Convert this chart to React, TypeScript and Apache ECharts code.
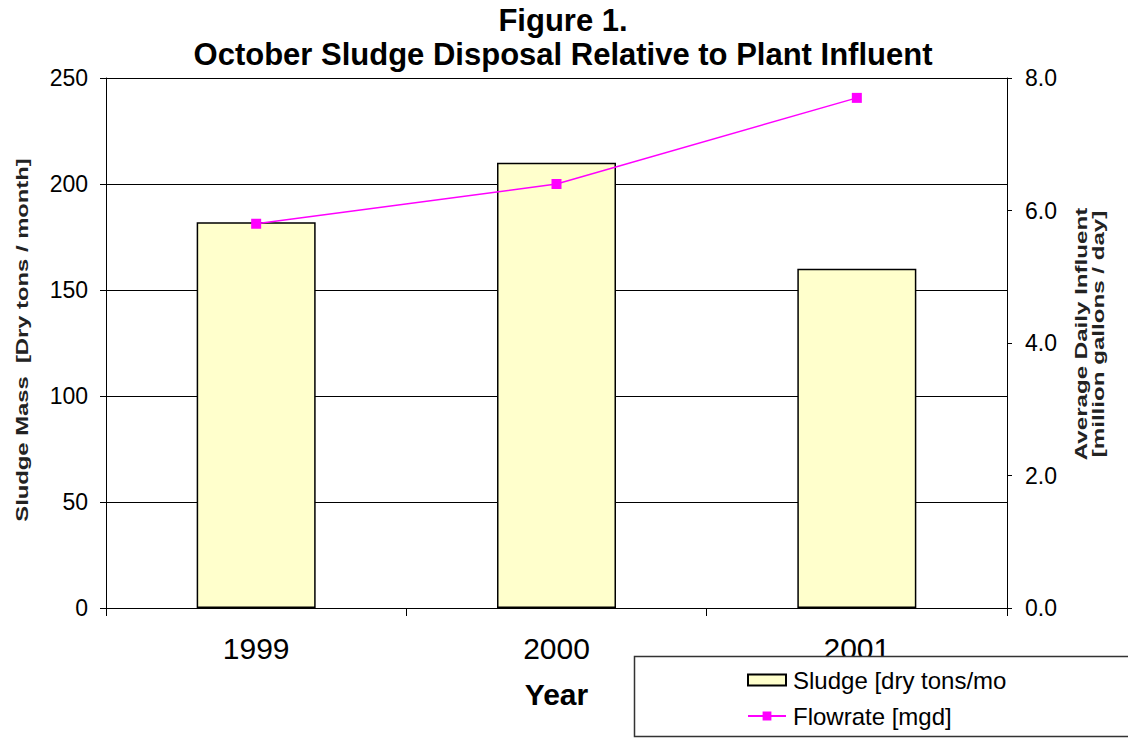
import React, { useEffect, useRef } from "react";
import * as echarts from "echarts";

const years = ["1999", "2000", "2001"];
const sludge = [182, 210, 160];
const flowrate = [5.8, 6.4, 7.7];
const leftTicks = { min: 0, max: 250, interval: 50 };
const rightTicks = { min: 0, max: 8, interval: 2 };
const titleLines = ["Figure 1.", "October Sludge Disposal Relative to Plant Influent"];
const leftAxisName = "Sludge Mass  [Dry tons / month]";
const rightAxisName = ["Average Daily Influent", "[million gallons / day]"];
const legendNames = ["Sludge [dry tons/mo", "Flowrate [mgd]"];

const FONT = "'Liberation Sans', Arial, sans-serif";

export default function App() {
  const ref = useRef<HTMLDivElement>(null);
  useEffect(() => {
    if (!ref.current) return;
    const chart = echarts.init(ref.current, null, { renderer: "svg" });
    const nameStyle = {
      font: `bold 17px ${FONT}`,
      fill: "#222",
      align: "center",
      verticalAlign: "middle",
    };
    chart.setOption({
      animation: false,
      backgroundColor: "#ffffff",
      textStyle: { fontFamily: FONT },
      title: {
        text: titleLines.join("\n"),
        left: 558,
        textAlign: "center",
        top: -2,
        textStyle: { fontSize: 31, fontWeight: "bold", color: "#000", lineHeight: 34, fontFamily: FONT },
      },
      grid: { left: 106, right: 121, top: 78, bottom: 130, containLabel: false },
      graphic: [
        {
          type: "rect",
          shape: { x: 634.5, y: 656.5, width: 520, height: 80 },
          style: { fill: "#fff", stroke: "#333", lineWidth: 1.5 },
          z: 10,
        },
        {
          type: "text",
          x: 22,
          y: 340,
          rotation: Math.PI / 2,
          scaleX: 1.4,
          style: { text: leftAxisName, ...nameStyle },
        },
        {
          type: "text",
          x: 1081,
          y: 334,
          rotation: Math.PI / 2,
          scaleX: 1.42,
          style: { text: rightAxisName[0], ...nameStyle },
        },
        {
          type: "text",
          x: 1098,
          y: 334,
          rotation: Math.PI / 2,
          scaleX: 1.42,
          style: { text: rightAxisName[1], ...nameStyle },
        },
      ],
      legend: {
        orient: "vertical",
        left: 742,
        top: 663,
        itemGap: 12,
        itemWidth: 38,
        itemHeight: 11,
        z: 20,
        textStyle: { fontSize: 24, color: "#000", fontFamily: FONT, padding: [0, 0, 0, 2] },
        data: [
          { name: legendNames[0], icon: "rect" },
          { name: legendNames[1] },
        ],
      },
      xAxis: {
        type: "category",
        data: years,
        boundaryGap: true,
        axisLine: { show: true, lineStyle: { color: "#000", width: 1 } },
        axisTick: { show: true, alignWithLabel: false, length: 8, lineStyle: { color: "#000" } },
        axisLabel: { fontSize: 30, color: "#000", margin: 25, fontFamily: FONT },
        name: "Year",
        nameLocation: "middle",
        nameGap: 71,
        nameTextStyle: { fontSize: 30, fontWeight: "bold", color: "#000", fontFamily: FONT },
      },
      yAxis: [
        {
          type: "value",
          min: leftTicks.min,
          max: leftTicks.max,
          interval: leftTicks.interval,
          axisLine: { show: true, lineStyle: { color: "#000" } },
          axisTick: { show: true, length: 6, lineStyle: { color: "#000" } },
          axisLabel: { fontSize: 23, color: "#000", margin: 18, fontFamily: FONT },
          splitLine: { show: true, lineStyle: { color: "#000", width: 1 } },
        },
        {
          type: "value",
          min: rightTicks.min,
          max: rightTicks.max,
          interval: rightTicks.interval,
          position: "right",
          axisLine: { show: true, lineStyle: { color: "#000" } },
          axisTick: { show: true, length: 5, lineStyle: { color: "#000" } },
          axisLabel: {
            fontSize: 23,
            color: "#000",
            margin: 18,
            fontFamily: FONT,
            formatter: (v: number) => v.toFixed(1),
          },
          splitLine: { show: false },
        },
      ],
      series: [
        {
          name: legendNames[0],
          type: "bar",
          data: sludge,
          yAxisIndex: 0,
          barWidth: 119,
          itemStyle: { color: "#FFFFCC", borderColor: "#000", borderWidth: 1.5 },
        },
        {
          name: legendNames[1],
          type: "line",
          data: flowrate,
          yAxisIndex: 1,
          symbol: "rect",
          symbolSize: 10,
          lineStyle: { color: "#FF00FF", width: 1.5 },
          itemStyle: { color: "#FF00FF" },
        },
      ],
    });
    return () => chart.dispose();
  }, []);
  return (
    <div
      ref={ref}
      style={{ position: "fixed", left: 0, top: 0, width: 1128, height: 738 }}
    />
  );
}
